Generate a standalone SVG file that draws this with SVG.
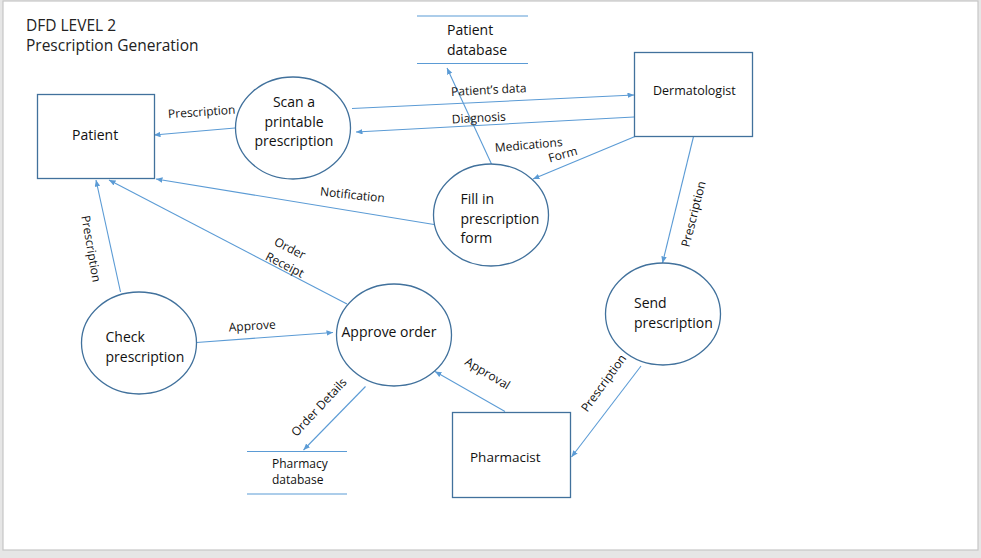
<svg xmlns="http://www.w3.org/2000/svg" width="981" height="558" viewBox="0 0 981 558">
<defs>
<style>
.node{fill:#fff;stroke:#41719c;stroke-width:1.3}
.store{stroke:#5b9bd5;stroke-width:1.2;fill:none}
.conn line{stroke:#5b9bd5;stroke-width:1.1;fill:none;marker-end:url(#ah)}
text{font-family:"Open Sans","Noto Sans","Liberation Sans",sans-serif;fill:#111}
.t{font-size:14px}
.s{font-size:12px}
.lbl{font-size:12px;text-anchor:middle}
.title{font-size:15.5px;fill:#222}
</style>
<marker id="ah" markerWidth="7" markerHeight="6" refX="6.5" refY="2.75" orient="auto" markerUnits="userSpaceOnUse">
<path d="M0,0 L6.5,2.75 L0,5.5 z" fill="#5b9bd5"/>
</marker>
</defs>
<rect x="0" y="0" width="981" height="558" fill="#e6e6e6"/>
<rect x="3" y="1" width="975" height="549" fill="#fff" stroke="#c6c6c6" stroke-width="1.2"/>
<g id="title">
<text class="title" x="26" y="31">DFD LEVEL 2</text>
<text class="title" x="26" y="51">Prescription Generation</text>
</g>
<g id="connectors" class="conn">
<line x1="235" y1="128" x2="154" y2="135"/>
<line x1="352" y1="108.5" x2="634" y2="95"/>
<line x1="634" y1="117" x2="356" y2="132"/>
<line x1="491.5" y1="164" x2="447" y2="68"/>
<line x1="635" y1="136.5" x2="533" y2="179"/>
<line x1="434" y1="224.5" x2="156" y2="179"/>
<line x1="347" y1="304" x2="109" y2="180"/>
<line x1="120.5" y1="292" x2="96" y2="180"/>
<line x1="196.5" y1="342.5" x2="333" y2="332.5"/>
<line x1="365.5" y1="386.5" x2="303.5" y2="450"/>
<line x1="505" y1="411.5" x2="435" y2="371.5"/>
<line x1="693.5" y1="136.5" x2="662.5" y2="263"/>
<line x1="641" y1="366" x2="571.5" y2="457"/>
</g>
<g id="labels">
<text class="lbl" transform="translate(202,116) rotate(-4)">Prescription</text>
<text class="lbl" transform="translate(489,94) rotate(-3)">Patient’s data</text>
<text class="lbl" transform="translate(479,122) rotate(-3)">Diagnosis</text>
<text class="lbl" transform="translate(529,149) rotate(-5)">Medications</text>
<text class="lbl" transform="translate(564,158.5) rotate(-16)">Form</text>
<text class="lbl" transform="translate(352,199) rotate(6)">Notification</text>
<text class="lbl" transform="translate(288,252) rotate(27)">Order</text>
<text class="lbl" transform="translate(283,268.5) rotate(27)">Receipt</text>
<text class="lbl" transform="translate(87,249.5) rotate(80)">Prescription</text>
<text class="lbl" transform="translate(252.5,330) rotate(-3.5)">Approve</text>
<text class="lbl" transform="translate(322,410) rotate(-47)">Order Details</text>
<text class="lbl" transform="translate(485.5,377) rotate(31)">Approval</text>
<text class="lbl" transform="translate(697.5,215) rotate(-76)">Prescription</text>
<text class="lbl" transform="translate(607,385.5) rotate(-54)">Prescription</text>
</g>
<g id="patient">
<rect class="node" x="37.5" y="94.5" width="117" height="84"/>
<text class="t" x="72" y="140">Patient</text>
</g>
<g id="dermatologist">
<rect class="node" x="634.5" y="52.5" width="118" height="84"/>
<text class="s" x="653" y="95" style="font-size:12.5px">Dermatologist</text>
</g>
<g id="pharmacist">
<rect class="node" x="452.5" y="412.5" width="118" height="85"/>
<text class="t" x="470" y="462" style="font-size:13.5px">Pharmacist</text>
</g>
<g id="scan">
<ellipse class="node" cx="293" cy="128" rx="57.5" ry="51"/>
<text class="t" text-anchor="middle" x="294" y="107">Scan a</text>
<text class="t" text-anchor="middle" x="294" y="127">printable</text>
<text class="t" text-anchor="middle" x="294" y="146">prescription</text>
</g>
<g id="fill">
<ellipse class="node" cx="491" cy="215" rx="57.5" ry="51"/>
<text class="t" x="460.5" y="204">Fill in</text>
<text class="t" x="460.5" y="224">prescription</text>
<text class="t" x="460.5" y="243">form</text>
</g>
<g id="send">
<ellipse class="node" cx="663" cy="314" rx="57.5" ry="51"/>
<text class="t" x="634" y="308">Send</text>
<text class="t" x="634" y="328">prescription</text>
</g>
<g id="check">
<ellipse class="node" cx="139" cy="343" rx="57.5" ry="51"/>
<text class="t" x="105.5" y="342">Check</text>
<text class="t" x="105.5" y="362">prescription</text>
</g>
<g id="approve">
<ellipse class="node" cx="394" cy="335" rx="57.5" ry="51"/>
<text class="t" x="341.5" y="337">Approve order</text>
</g>
<g id="patient-db">
<line class="store" x1="417" y1="16" x2="528" y2="16"/>
<line class="store" x1="417" y1="63.5" x2="528" y2="63.5"/>
<text class="t" x="447" y="35">Patient</text>
<text class="t" x="447" y="55">database</text>
</g>
<g id="pharmacy-db">
<line class="store" x1="247" y1="451.5" x2="347" y2="451.5"/>
<line class="store" x1="247" y1="494" x2="347" y2="494"/>
<text class="s" x="272" y="468">Pharmacy</text>
<text class="s" x="272" y="484">database</text>
</g>
</svg>
